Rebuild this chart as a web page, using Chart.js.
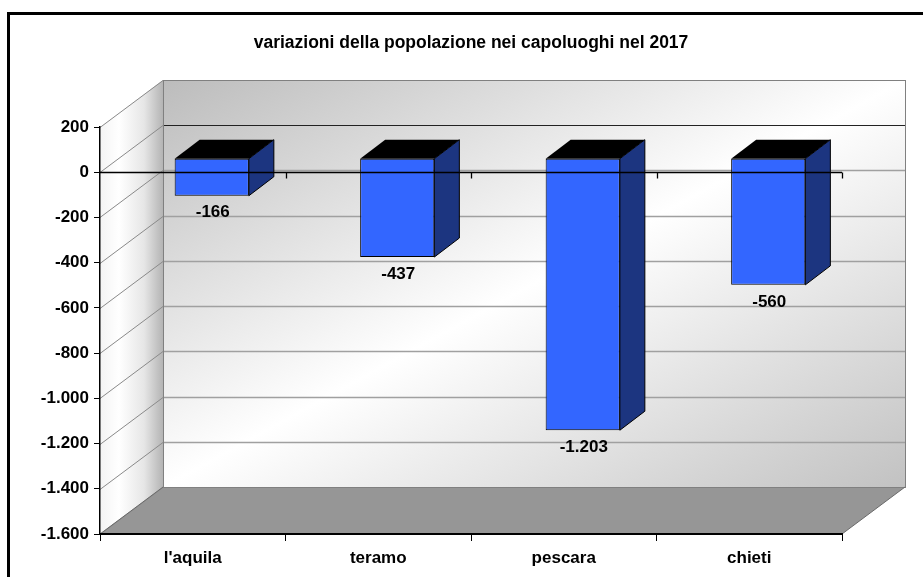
<!DOCTYPE html>
<html>
<head>
<meta charset="utf-8">
<script src="https://cdn.jsdelivr.net/npm/chart.js@4/dist/chart.umd.min.js"></script>
<style>
  body { margin: 0; background: #fff; }
  canvas { display: block; }
</style>
</head>
<body>
<canvas id="chart" width="923" height="577"></canvas>
<script>
const categories = ["l'aquila", 'teramo', 'pescara', 'chieti'];
const variazioni = [-166, -437, -1203, -560];
const yMin = -1600;
const yMax = 200;
const yStep = 200;

// italian thousands separator: -1203 -> -1.203
function fmt(v) {
  const s = Math.abs(v).toString().replace(/\B(?=(\d{3})+(?!\d))/g, '.');
  return (v < 0 ? '-' : '') + s;
}

// fake 3d look of the old excel chart
const WALL_DX = 63, WALL_DY = 47;   // depth of the whole plot box
const BAR_DX = 19, BAR_DY = 14;     // where the front of the bars sits
const BAR_DEPTH_X = 25, BAR_DEPTH_Y = 19;

const threeD = {
  id: 'threeD',
  beforeDraw(chart) {
    const { ctx, chartArea: a, scales } = chart;
    const L = a.left, R = a.right, T = a.top, B = a.bottom;
    ctx.save();
    ctx.fillStyle = '#fff';
    ctx.fillRect(0, 0, chart.width, chart.height);

    // outer frame
    ctx.strokeStyle = '#000';
    ctx.lineWidth = 3;
    ctx.strokeRect(8.5, 13.5, 1000, 1000);

    // back wall, gradient in box coords
    const bx = L + WALL_DX, by = T - WALL_DY, bw = R - L, bh = B - T;
    ctx.save();
    ctx.translate(bx, by);
    ctx.scale(bw, bh);
    const g = ctx.createLinearGradient(0, 0, 1, 1);
    g.addColorStop(0, '#bcbcbc');
    g.addColorStop(0.5, '#ffffff');
    g.addColorStop(1, '#c2c2c2');
    ctx.fillStyle = g;
    ctx.fillRect(0, 0, 1, 1);
    ctx.restore();

    // left wall
    const lg = ctx.createLinearGradient(L, 0, L + WALL_DX, 0);
    lg.addColorStop(0, '#f4f4f4');
    lg.addColorStop(0.3, '#ffffff');
    lg.addColorStop(0.7, '#e6e6e6');
    lg.addColorStop(1, '#b4b4b4');
    ctx.fillStyle = lg;
    ctx.beginPath();
    ctx.moveTo(L, T);
    ctx.lineTo(L + WALL_DX, T - WALL_DY);
    ctx.lineTo(L + WALL_DX, B - WALL_DY);
    ctx.lineTo(L, B);
    ctx.closePath();
    ctx.fill();

    // floor
    ctx.fillStyle = '#969696';
    ctx.beginPath();
    ctx.moveTo(L, B);
    ctx.lineTo(L + WALL_DX, B - WALL_DY);
    ctx.lineTo(R + WALL_DX, B - WALL_DY);
    ctx.lineTo(R, B);
    ctx.closePath();
    ctx.fill();

    // gridlines: diagonal on the side wall, flat on the back wall
    ctx.lineWidth = 1;
    scales.y.ticks.forEach(t => {
      const py = Math.round(scales.y.getPixelForValue(t.value)) + 0.5;
      ctx.strokeStyle = '#8a8a8a';
      ctx.beginPath();
      ctx.moveTo(L, py);
      ctx.lineTo(L + WALL_DX, py - WALL_DY);
      ctx.stroke();
      if (t.value === yMax || t.value === yMin) return;
      ctx.strokeStyle = t.value === 0 ? '#222' : '#a0a0a0';
      ctx.lineWidth = t.value === 0 ? 1.2 : 1.5;
      ctx.beginPath();
      ctx.moveTo(L + WALL_DX, py - WALL_DY);
      ctx.lineTo(R + WALL_DX, py - WALL_DY);
      ctx.stroke();
      ctx.lineWidth = 1;
    });

    // wall edges
    ctx.strokeStyle = '#808080';
    ctx.strokeRect(bx + 0.5, by + 0.5, bw, bh);
    ctx.strokeStyle = '#6a6a6a';
    ctx.beginPath();
    ctx.moveTo(L, B);
    ctx.lineTo(L + WALL_DX, B - WALL_DY);
    ctx.moveTo(R, B);
    ctx.lineTo(R + WALL_DX, B - WALL_DY);
    ctx.stroke();
    ctx.restore();
  },
  beforeDatasetsDraw(chart) {
    chart.ctx.save();
    chart.ctx.translate(BAR_DX, -BAR_DY);
  },
  afterDatasetsDraw(chart) {
    const { ctx, chartArea: a, scales } = chart;
    chart.getDatasetMeta(0).data.forEach(bar => {
      const { x, y, base, width } = bar.getProps(['x', 'y', 'base', 'width'], true);
      const l = x - width / 2, r = x + width / 2;
      const top = Math.min(y, base), bot = Math.max(y, base);
      ctx.lineWidth = 1;
      ctx.strokeStyle = '#000';
      ctx.fillStyle = '#000';
      ctx.beginPath();
      ctx.moveTo(l, top);
      ctx.lineTo(l + BAR_DEPTH_X, top - BAR_DEPTH_Y);
      ctx.lineTo(r + BAR_DEPTH_X, top - BAR_DEPTH_Y);
      ctx.lineTo(r, top);
      ctx.closePath();
      ctx.fill();
      ctx.fillStyle = '#1c3580';
      ctx.beginPath();
      ctx.moveTo(r, top);
      ctx.lineTo(r + BAR_DEPTH_X, top - BAR_DEPTH_Y);
      ctx.lineTo(r + BAR_DEPTH_X, bot - BAR_DEPTH_Y);
      ctx.lineTo(r, bot);
      ctx.closePath();
      ctx.fill();
      ctx.stroke();
    });
    ctx.restore();

    // category axis at zero, in front of the bars
    const y0 = Math.round(scales.y.getPixelForValue(0)) + 0.5;
    ctx.save();
    ctx.strokeStyle = '#000';
    ctx.lineWidth = 1.3;
    ctx.beginPath();
    ctx.moveTo(a.left, y0);
    ctx.lineTo(a.right, y0);
    categories.forEach((c, i) => {
      const px = Math.round(scales.x.getPixelForValue(i + 0.5)) + 0.5;
      ctx.moveTo(px, y0);
      ctx.lineTo(px, y0 + 6);
    });
    ctx.stroke();
    ctx.restore();
  },
  afterDraw(chart) {
    const { ctx } = chart;
    ctx.save();
    ctx.fillStyle = '#000';
    ctx.font = 'bold 17px Arial, "Liberation Sans", sans-serif';
    ctx.textAlign = 'center';
    ctx.textBaseline = 'middle';
    chart.getDatasetMeta(0).data.forEach((bar, i) => {
      const { x, y } = bar.getProps(['x', 'y'], true);
      ctx.fillText(fmt(variazioni[i]), x + BAR_DX + 1, y + 3);
    });
    ctx.restore();
  }
};

Chart.defaults.font.family = 'Arial, "Liberation Sans", sans-serif';
Chart.defaults.color = '#000';

new Chart(document.getElementById('chart'), {
  type: 'bar',
  data: {
    labels: categories,
    datasets: [{
      label: 'variazioni',
      data: variazioni,
      backgroundColor: '#3366ff',
      borderColor: '#000',
      borderWidth: 1,
      borderSkipped: false,
      barPercentage: 0.4,
      categoryPercentage: 1
    }]
  },
  options: {
    responsive: false,
    animation: false,
    layout: { padding: { top: 33, right: 81, bottom: 0, left: 0 } },
    plugins: {
      legend: { display: false },
      tooltip: { enabled: false },
      title: {
        display: true,
        fullSize: false,
        text: 'variazioni della popolazione nei capoluoghi nel 2017',
        font: { size: 17.5, weight: 'bold' },
        lineHeight: 1.2,
        padding: { top: 0, bottom: 73 }
      }
    },
    scales: {
      x: {
        afterFit: s => { s.height = 43; },
        grid: { offset: true, drawOnChartArea: false, tickLength: 7, color: '#000', lineWidth: 1 },
        border: { color: '#000', width: 2 },
        ticks: { font: { size: 17, weight: 'bold' }, padding: 7 }
      },
      y: {
        min: yMin,
        max: yMax,
        afterFit: s => { s.width = 100; },
        grid: { drawOnChartArea: false, tickLength: 6, color: '#000' },
        border: { color: '#000', width: 1.5 },
        ticks: {
          stepSize: yStep,
          font: { size: 17, weight: 'bold' },
          padding: 5,
          callback: v => fmt(v)
        }
      }
    }
  },
  plugins: [threeD]
});
</script>
</body>
</html>
